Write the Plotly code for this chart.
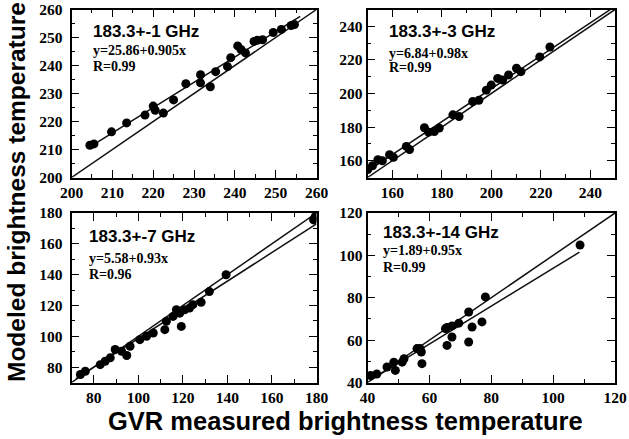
import plotly.graph_objects as go

# ---------------- data ----------------
p1_x = [204.5, 205.5, 209.8, 213.5, 218.0, 220.0, 220.5, 222.5, 225.0, 228.0, 231.6, 231.6,
        234.0, 235.3, 238.2, 239.0, 240.7, 241.5, 242.6, 244.7, 245.5, 246.8, 249.4, 251.4,
        253.8, 254.6]
p1_y = [211.5, 212.0, 216.3, 219.5, 222.3, 225.5, 224.0, 223.0, 227.7, 233.5, 236.7, 233.8,
        232.4, 237.8, 239.6, 242.8, 247.0, 245.7, 244.5, 248.6, 249.0, 249.2, 251.8, 252.9,
        254.3, 254.6]

p2_x = [150.1, 152.0, 154.2, 156.0, 158.9, 160.5, 165.7, 167.0, 173.0, 174.7, 177.0, 179.0,
        184.5, 187.0, 192.5, 195.0, 198.0, 200.0, 202.6, 204.6, 207.0, 210.2, 212.0, 219.6,
        223.7]
p2_y = [154.7, 157.0, 160.6, 160.0, 163.6, 162.0, 168.5, 166.6, 179.6, 177.0, 177.4, 179.4,
        187.3, 186.3, 195.2, 196.0, 202.0, 205.0, 209.0, 208.0, 211.0, 215.0, 213.0, 221.8,
        227.7]

p3_x = [74.0, 76.2, 82.9, 85.1, 87.4, 89.6, 92.5, 94.8, 96.3, 100.7, 103.7, 106.7, 111.9,
        112.6, 115.6, 117.1, 118.6, 119.3, 120.8, 123.0, 124.5, 128.2, 131.9, 139.4, 178.7,
        179.4]
p3_y = [75.2, 77.3, 81.6, 83.8, 86.0, 91.4, 90.3, 87.5, 93.5, 97.8, 100.0, 102.1, 104.3,
        109.7, 112.9, 117.2, 115.0, 106.4, 117.2, 118.3, 120.5, 122.0, 129.0, 139.9, 175.5,
        177.6]

p4_x = [41.0, 43.0, 46.3, 48.5, 49.0, 51.2, 51.8, 56.0, 57.0, 57.4, 57.6, 65.2, 65.7, 67.3,
        65.7, 67.3, 69.5, 72.7, 72.7, 73.8, 77.0, 78.1, 108.7]
p4_y = [43.3, 44.0, 47.3, 49.6, 45.7, 49.6, 51.2, 56.0, 56.0, 54.4, 48.9, 65.4, 66.0, 66.7,
        57.5, 61.5, 68.0, 73.3, 59.1, 66.2, 68.6, 80.4, 104.9]

panel_titles = ["183.3+-1 GHz", "183.3+-3 GHz", "183.3+-7 GHz", "183.3+-14 GHz"]
panel_eqs = ["y=25.86+0.905x", "y=6.84+0.98x", "y=5.58+0.93x", "y=1.89+0.95x"]
panel_r = ["R=0.99", "R=0.99", "R=0.96", "R=0.99"]

# regression line (intercept, slope, x start, x end) as seen in the picture
fit_intercept = [25.86, 6.84, 5.58, 4.5]
fit_slope = [0.905, 0.98, 0.93, 0.894]
fit_xstart = [204.4, 150.0, 72.0, 41.0]
fit_xend = [256.0, 250.0, 180.0, 108.5]

axis_ranges = [[200, 260], [150, 250], [70, 180], [40, 120]]
major_dtick = [10, 20, 20, 20]
minor_dtick = [5, 10, 10, 10]
tick0 = [200, 160, 80, 40]

xs = [p1_x, p2_x, p3_x, p4_x]
ys = [p1_y, p2_y, p3_y, p4_y]

x_title = "GVR measured brightness temperature"
y_title = "Modeled brightness temperature"

# ---------------- layout ----------------
W, H = 629, 439
col_px = [(71.5, 316.5), (367.5, 615.0)]
row_px = [(9.5, 177.5), (213.0, 382.5)]

fig = go.Figure()
layout = dict(width=W, height=H, margin=dict(l=0, r=0, t=0, b=0, autoexpand=False),
              paper_bgcolor="white", plot_bgcolor="white", showlegend=False,
              template="none")

annotations = []
ann_pos = [(0.084, 0.872, 0.757, 0.662), (0.083, 0.872, 0.741, 0.652),
           (0.067, 0.862, 0.733, 0.638), (0.059, 0.886, 0.776, 0.681)]

for i in range(4):
    r, c = divmod(i, 2)
    xa = "xaxis" if i == 0 else f"xaxis{i+1}"
    ya = "yaxis" if i == 0 else f"yaxis{i+1}"
    xr = "x" if i == 0 else f"x{i+1}"
    yr = "y" if i == 0 else f"y{i+1}"
    x0, x1 = col_px[c]
    y0, y1 = row_px[r]
    lo, hi = axis_ranges[i]
    common = dict(range=[lo, hi], showgrid=False, zeroline=False, automargin=False,
                  showline=True, linecolor="black", linewidth=1.6, mirror="allticks",
                  ticks="inside", ticklen=8, tickwidth=1.4, tickcolor="black",
                  tick0=tick0[i], dtick=major_dtick[i],
                  minor=dict(ticks="inside", ticklen=4, tickwidth=1.2, tickcolor="black",
                             dtick=minor_dtick[i], tick0=lo, showgrid=False),
                  tickfont=dict(family="Liberation Serif", size=15.5, color="black", weight="bold"))
    layout[xa] = dict(common, domain=[x0 / W, x1 / W], anchor=yr)
    layout[ya] = dict(common, domain=[1 - y1 / H, 1 - y0 / H], anchor=xr,
                      ticklabelstandoff=4 if c == 0 else 0)

    # 1:1 line
    fig.add_trace(go.Scatter(x=[lo, hi], y=[lo, hi], mode="lines",
                             line=dict(color="#111", width=1.5), xaxis=xr, yaxis=yr))
    # fit line
    fx = [fit_xstart[i], fit_xend[i]]
    fy = [fit_intercept[i] + fit_slope[i] * v for v in fx]
    fig.add_trace(go.Scatter(x=fx, y=fy, mode="lines",
                             line=dict(color="#111", width=1.5), xaxis=xr, yaxis=yr))
    # points
    fig.add_trace(go.Scatter(x=xs[i], y=ys[i], mode="markers",
                             marker=dict(color="black", size=9, line=dict(width=0)),
                             xaxis=xr, yaxis=yr))

    ax, ty, ey, ry = ann_pos[i]
    dref = dict(xref=f"{xr} domain", yref=f"{yr} domain", showarrow=False,
                xanchor="left", yanchor="middle", borderpad=0)
    annotations.append(dict(dref, x=ax, y=ty, text=panel_titles[i],
                            font=dict(family="Liberation Sans", size=17, color="black", weight="bold")))
    annotations.append(dict(dref, x=ax, y=ey, text=panel_eqs[i],
                            font=dict(family="Liberation Serif", size=14, color="black", weight="bold")))
    annotations.append(dict(dref, x=ax, y=ry, text=panel_r[i],
                            font=dict(family="Liberation Serif", size=14, color="black", weight="bold")))

annotations.append(dict(xref="paper", yref="paper", x=345 / W, y=1 - 421 / H, text=x_title,
                        showarrow=False, xanchor="center", yanchor="middle",
                        font=dict(family="Liberation Sans", size=25.5, color="black", weight="bold")))
annotations.append(dict(xref="paper", yref="paper", x=16 / W, y=1 - 192 / H, text=y_title,
                        showarrow=False, xanchor="center", yanchor="middle", textangle=-90,
                        borderpad=0,
                        font=dict(family="Liberation Sans", size=24.5, color="black", weight="bold")))

layout["annotations"] = annotations
fig.update_layout(**layout)
fig.write_html("out.html")
